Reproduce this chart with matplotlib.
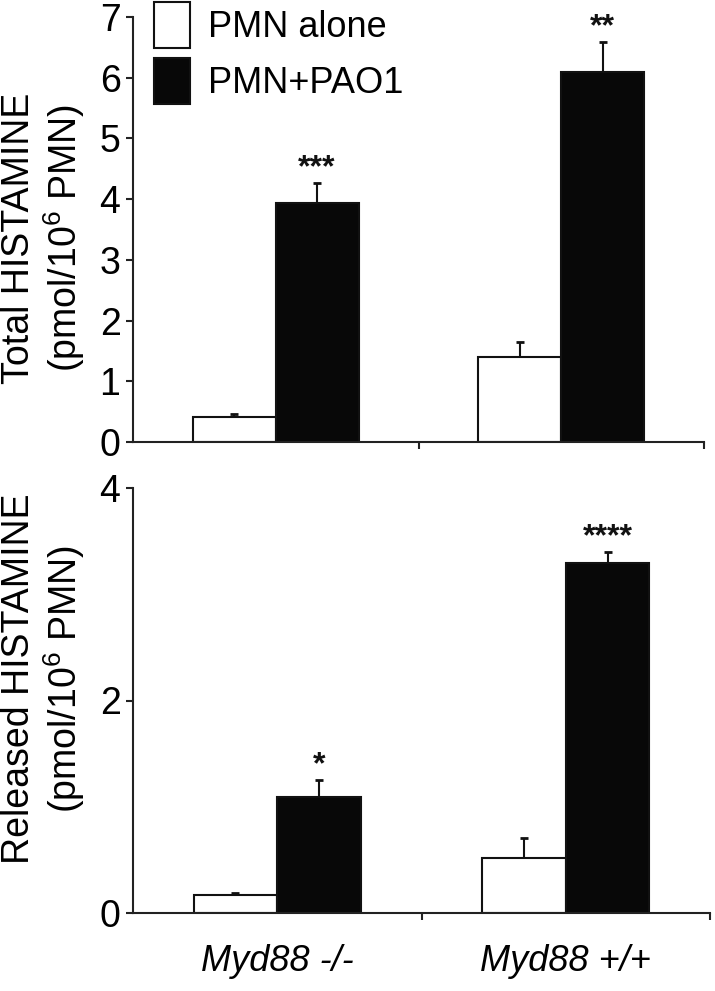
import numpy as np
import matplotlib
matplotlib.use('Agg')
import matplotlib.pyplot as plt

plt.rcParams['font.family'] = ['Liberation Sans', 'DejaVu Sans']
plt.rcParams['mathtext.fontset'] = 'custom'
plt.rcParams['mathtext.rm'] = 'Liberation Sans'
plt.rcParams['mathtext.default'] = 'regular'

# data
groups = ['Myd88 -/-', 'Myd88 +/+']
series = ['PMN alone', 'PMN+PAO1']

total_alone = [0.41, 1.40]
total_alone_err = [0.05, 0.25]
total_pao1 = [3.94, 6.10]
total_pao1_err = [0.33, 0.49]
total_stars = ['***', '**']

released_alone = [0.17, 0.52]
released_alone_err = [0.02, 0.19]
released_pao1 = [1.09, 3.29]
released_pao1_err = [0.16, 0.11]
released_stars = ['*', '****']

W, H = 715, 991
fig = plt.figure(figsize=(W / 100, H / 100), dpi=100)
ax1 = fig.add_axes([133 / W, 1 - 442 / H, 571 / W, 425 / H])
ax2 = fig.add_axes([133 / W, 1 - 913 / H, 577 / W, 425 / H])

x = np.arange(len(groups)) + 0.5
bw = 0.29
edge = '#111111'


def draw(ax, alone, alone_err, pao1, pao1_err, stars, ymax, yticks):
    b1 = ax.bar(x - bw / 2, alone, bw, color='white', edgecolor=edge, linewidth=1.5,
                label=series[0], zorder=2)
    b2 = ax.bar(x + bw / 2, pao1, bw, color='#080808', edgecolor=edge, linewidth=1.5,
                label=series[1], zorder=2)
    for xs, v, e in [(x - bw / 2, alone, alone_err), (x + bw / 2, pao1, pao1_err)]:
        ax.errorbar(xs, v, yerr=[np.zeros(len(e)), e], fmt='none', ecolor=edge,
                    elinewidth=1.5, capsize=3, capthick=2, zorder=1)
    for xi, v, e, s in zip(x + bw / 2, pao1, pao1_err, stars):
        ax.annotate(s, (xi, v + e), xytext=(0, 5), textcoords='offset points',
                    ha='center', va='baseline', fontsize=23, fontweight='bold',
                    color='#111111')
    ax.set_xlim(0, 2)
    ax.set_ylim(0, ymax)
    ax.set_yticks(yticks)
    ax.set_xticks([1, 2])
    ax.set_xticklabels([])
    for s in ['top', 'right']:
        ax.spines[s].set_visible(False)
    for s in ['left', 'bottom']:
        ax.spines[s].set_linewidth(1.5)
        ax.spines[s].set_color('#222222')
    ax.tick_params(axis='y', labelsize=27, length=5, width=1.5, pad=4, color='#222222')
    ax.tick_params(axis='x', which='major', length=5, width=1.5, color='#222222')
    return b1, b2


h1, h2 = draw(ax1, total_alone, total_alone_err, total_pao1, total_pao1_err,
              total_stars, 7, range(0, 8))
draw(ax2, released_alone, released_alone_err, released_pao1, released_pao1_err,
     released_stars, 4, [0, 2, 4])

ax2.set_xticks(x, minor=True)
ax2.set_xticklabels(groups, minor=True, fontsize=26, style='italic')
ax2.tick_params(axis='x', which='minor', length=0, pad=22)

fig.text(44 / W, 1 - 238 / H, 'Total HISTAMINE\n(pmol/10$^{6}$ PMN)', rotation=90,
         ha='center', va='center', fontsize=27, linespacing=1.1, multialignment='center')
fig.text(44 / W, 1 - 679 / H, 'Released HISTAMINE\n(pmol/10$^{6}$ PMN)', rotation=90,
         ha='center', va='center', fontsize=27, linespacing=1.1, multialignment='center')

fig.legend([h1, h2], series, loc='upper left', bbox_to_anchor=(154 / W, 1 - 2 / H),
           bbox_transform=fig.transFigure, frameon=False, fontsize=26,
           handlelength=1.0, handleheight=1.58, handletextpad=0.5, labelspacing=0.28,
           borderpad=0, borderaxespad=0)

fig.savefig('out.png', dpi=100, facecolor='white')
